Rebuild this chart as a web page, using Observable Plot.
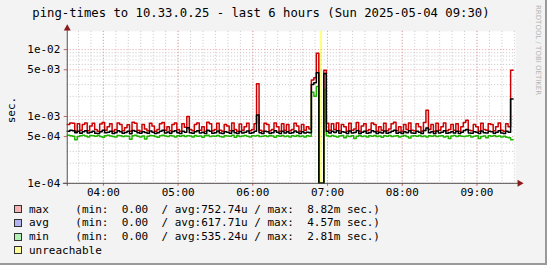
<!DOCTYPE html>
<html><head><meta charset="utf-8">
<script src="https://cdn.jsdelivr.net/npm/d3@7"></script>
<script src="https://cdn.jsdelivr.net/npm/@observablehq/plot@0.6"></script>
<style>
html,body{margin:0;padding:0;background:#f3f3f3;}
#wrap{position:relative;width:547px;height:265px;background:#f3f3f3;overflow:hidden;font-family:"DejaVu Sans Mono",monospace;color:#000;box-sizing:border-box;border-right:2px solid #9a9a9a;border-bottom:2px solid #9a9a9a;}
#chart{position:absolute;left:0;top:0;}
#chart svg{background:transparent;overflow:visible;}
.title{position:absolute;left:0;top:5px;width:522px;text-align:center;font-size:12.25px;line-height:16px;white-space:pre;}
.ylab{position:absolute;left:11px;top:110px;font-size:11px;white-space:pre;transform:translate(-50%,-50%) rotate(-90deg);}
.legend{position:absolute;left:29px;top:202.5px;font-size:11px;line-height:13.8px;white-space:pre;}
.box{position:absolute;left:14px;width:6px;height:6px;border:1px solid #303030;}
.wm{position:absolute;left:534px;top:5px;font-family:"DejaVu Sans",sans-serif;font-size:7px;color:#b4b4b4;writing-mode:vertical-rl;white-space:pre;}
</style></head>
<body>
<div id="wrap">
  <div id="chart"></div>
  <div class="title" id="title"></div>
  <div class="ylab" id="ylab"></div>
  <div class="legend" id="legend"></div>
  <div class="wm" id="wm"></div>
</div>
<script>
// ---------- data ----------
const titleText = "ping-times to 10.33.0.25 - last 6 hours (Sun 2025-05-04 09:30)";
const yLabel = "sec.";
const watermark = "RRDTOOL / TOBI OETIKER";
const startTime = "2025-05-04T03:31:00Z";   // first sample
const endTime   = "2025-05-04T09:31:00Z";   // end of 6 h window
const stepMinutes = 2;

// ping times in microseconds, one per 2-minute step
const maxUs = [760,800,790,600,780,620,760,800,610,720,
               790,640,600,770,810,620,700,780,600,640,
               800,760,610,680,750,600,820,790,620,600,
               760,650,610,790,720,600,640,780,810,620,
               700,610,760,800,640,600,780,690,1000,640,
               610,760,800,620,700,600,820,780,610,640,
               790,620,600,760,720,610,800,640,600,770,
               620,700,790,610,640,780,3100,620,600,790,
               760,610,640,800,700,600,780,620,760,610,
               640,790,720,600,760,620,700,650,3500,3800,
               8800,0,0,4900,790,620,780,640,800,610,
               760,700,600,790,620,650,810,600,720,780,
               610,640,800,760,600,700,620,790,610,650,
               780,820,610,700,600,760,640,800,620,610,
               780,700,600,810,1240,640,760,600,790,620,
               700,800,610,640,760,620,780,600,700,810,
               880,620,610,760,700,600,790,640,620,780,
               760,610,700,800,620,600,780,700,4900];
const avgUs = [600,620,610,570,600,560,590,610,565,580,
               600,560,555,590,620,570,580,600,555,570,
               610,590,560,575,600,550,615,600,570,560,
               590,575,560,605,580,555,570,600,620,565,
               585,560,595,610,570,555,600,580,680,570,
               560,590,610,565,580,555,620,600,560,570,
               605,565,555,590,580,560,610,570,555,595,
               565,580,605,560,570,600,1050,570,555,600,
               590,560,570,610,580,555,600,565,590,560,
               570,605,580,555,590,565,580,570,3000,3200,
               4500,0,0,4400,600,565,600,575,610,560,
               590,580,555,605,565,575,615,555,580,600,
               560,570,610,590,555,580,565,605,560,575,
               600,620,560,580,555,590,570,610,565,560,
               600,580,555,615,670,570,590,555,605,565,
               580,610,560,570,590,565,600,555,580,615,
               640,565,560,590,580,555,605,570,565,600,
               590,560,580,610,565,555,600,580,1820];
const minUs = [525,515,505,450,500,515,525,510,495,520,
               515,505,520,500,490,515,525,510,500,495,
               520,515,500,510,505,455,515,525,505,495,
               510,460,505,520,515,500,490,515,525,510,
               500,520,510,495,515,505,520,500,515,510,
               495,520,505,510,490,515,525,500,510,505,
               520,500,495,515,510,505,525,490,515,500,
               510,520,505,495,515,510,520,500,505,515,
               500,520,510,490,515,505,520,500,510,495,
               515,505,520,500,510,495,515,505,2300,2000,
               2800,0,0,2500,515,500,520,505,495,510,
               520,480,510,500,515,470,505,520,500,510,
               495,515,505,520,500,510,490,515,505,520,
               500,510,515,495,505,520,500,475,510,515,
               505,520,500,510,495,515,505,520,500,510,
               515,495,505,470,510,520,500,515,505,500,
               510,520,495,505,515,470,500,510,480,515,
               505,520,500,510,495,505,490,480,450];

const unreachableStart = ["2025-05-04T06:54:00Z"];
const unreachableEnd   = ["2025-05-04T06:56:00Z"];

const yMajorTicks = [1e-4, 5e-4, 1e-3, 5e-3, 1e-2];
const yMinorTicks = [2e-4,3e-4,4e-4,6e-4,7e-4,8e-4,9e-4,
                     2e-3,3e-3,4e-3,6e-3,7e-3,8e-3,9e-3];
const yDomain = [1e-4, 1.875e-2];

const legendNames = ["max", "avg", "min", "unreachable"];
const legendStats = [
  "    (min:  0.00  / avg:752.74u / max:  8.82m sec.)",
  "    (min:  0.00  / avg:617.71u / max:  4.57m sec.)",
  "    (min:  0.00  / avg:535.24u / max:  2.81m sec.)",
  ""
];
const legendColors = ["#f4b4b4", "#b4b4f0", "#b4f0b4", "#ffff99"];
const lineColors = {max: "#cc0000", avg: "#000000", min: "#1eb400"};

// ---------- build table ----------
const t0 = new Date(startTime);
const rows = maxUs.map((m, i) => ({
  t: new Date(+t0 + i * stepMinutes * 60000),
  max: m / 1e6, avg: avgUs[i] / 1e6, min: minUs[i] / 1e6
}));
const lastRow = rows[rows.length - 1];
rows.push({...lastRow, t: new Date(+lastRow.t + stepMinutes * 60000)}); // close final step
const unreachable = unreachableStart.map((s, i) => ({x1: new Date(s), x2: new Date(unreachableEnd[i])}));

const xDomain = [new Date(startTime), new Date(endTime)];
const minorX = d3.utcMinute.every(10).range(xDomain[0], xDomain[1]);
const majorX = d3.utcHour.every(1).range(xDomain[0], xDomain[1]);
const expFmt = v => v.toExponential(0).replace(/e([+-])(\d)$/, "e$10$2");

const font = "DejaVu Sans Mono";
const chart = Plot.plot({
  width: 547, height: 265,
  marginLeft: 67, marginRight: 30, marginTop: 31, marginBottom: 81.5,
  style: {background: "transparent", fontFamily: font, fontSize: "11px", color: "#000", overflow: "visible"},
  x: {type: "utc", domain: xDomain, axis: null},
  y: {type: "log", domain: yDomain, clamp: true, axis: null},
  marks: [
    Plot.frame({fill: "white", stroke: null}),
    Plot.rect(unreachable, {x1: "x1", x2: "x2", fill: "#ffff80"}),
    Plot.ruleX(minorX, {stroke: "#c8c8c8", strokeDasharray: "1,2"}),
    Plot.ruleY(yMinorTicks, {stroke: "#c8c8c8", strokeDasharray: "1,2"}),
    Plot.ruleX(majorX, {stroke: "#e8a0a0", strokeDasharray: "1,2"}),
    Plot.ruleY(yMajorTicks, {stroke: "#e8a0a0", strokeDasharray: "1,2"}),
    Plot.line(rows, {x: "t", y: "max", curve: "step-after", stroke: lineColors.max, strokeWidth: 1.5}),
    Plot.line(rows, {x: "t", y: "min", curve: "step-after", stroke: lineColors.min, strokeWidth: 1.5}),
    Plot.line(rows, {x: "t", y: "avg", curve: "step-after", stroke: lineColors.avg, strokeWidth: 1.5}),
    // axes
    Plot.axisX({ticks: majorX, tickFormat: d3.utcFormat("%H:%M"), tickSize: 3, tickPadding: 1.5,
                stroke: "#c06060", fontSize: 11, fontFamily: font, fill: "#000"}),
    Plot.axisY({ticks: yMajorTicks, tickFormat: expFmt, tickSize: 3, tickPadding: 4,
                stroke: "#c06060", fontSize: 11, fontFamily: font, fill: "#000"}),
    Plot.ruleY([yDomain[0]], {stroke: "#505050", strokeWidth: 1, insetLeft: -4, insetRight: -3}),
    Plot.ruleX([xDomain[0]], {stroke: "#505050", strokeWidth: 1, insetBottom: -3, insetTop: -3}),
    Plot.dot([0], {frameAnchor: "bottom-right", symbol: "triangle", rotate: 90, r: 2.6, fill: "#8b1a1a", stroke: null, dx: 4}),
    Plot.dot([0], {frameAnchor: "top-left", symbol: "triangle", r: 2.6, fill: "#8b1a1a", stroke: null, dy: -3})
  ]
});
document.getElementById("chart").appendChild(chart);

document.getElementById("title").textContent = titleText;
document.getElementById("ylab").textContent = yLabel;
document.getElementById("wm").textContent = watermark;
const leg = document.getElementById("legend");
leg.textContent = legendNames.map((n, i) => n + legendStats[i]).join("\n");
const wrap = document.getElementById("wrap");
legendColors.forEach((c, i) => {
  const b = document.createElement("div");
  b.className = "box";
  b.style.top = (205 + i * 13.8) + "px";
  b.style.background = c;
  wrap.appendChild(b);
});
</script>
</body></html>
